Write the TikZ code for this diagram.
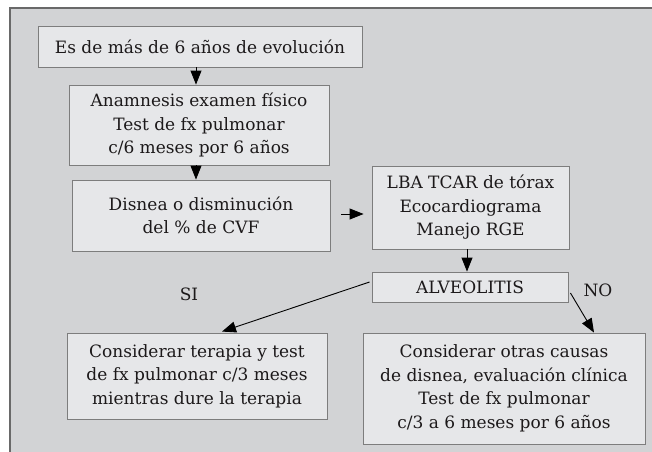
\documentclass[tikz,border=0pt]{standalone}
\usepackage{fontspec}
\setmainfont{DejaVu Serif}
\usetikzlibrary{arrows.meta}
\definecolor{bggray}{RGB}{210,211,213}
\definecolor{boxfill}{RGB}{230,231,233}
\definecolor{boxline}{RGB}{125,125,125}
\definecolor{frameline}{RGB}{105,105,105}
\definecolor{ink}{RGB}{28,25,26}
\begin{document}
\begin{tikzpicture}[x=1pt,y=-1pt,
  box/.style={draw=boxline,fill=boxfill,line width=0.9pt,text=ink,align=center,inner sep=0pt,font=\fontsize{17}{23.5}\selectfont},
  arr/.style={draw=black,line width=0.9pt,-{Triangle[length=14pt,width=11pt]}},
  lbl/.style={text=ink,inner sep=0pt,font=\fontsize{17}{23.5}\selectfont}]
\useasboundingbox (0,0) rectangle (652,451);
\fill[bggray] (10,8) rectangle (665,465);
\draw[frameline,line width=1.5pt] (10,470) -- (10,8) -- (665,8);

\node[box,minimum width=324pt,minimum height=41pt] (b1) at (200,46.5) {Es de más de 6 años de evolución};
\node[box,minimum width=260pt,minimum height=80pt] (b2) at (199,125) {Anamnesis examen físico\\Test de fx pulmonar\\c/6 meses por 6 años};
\node[box,minimum width=258pt,minimum height=71pt] (b3) at (201,215.5) {Disnea o disminución\\del \% de CVF};
\node[box,minimum width=197pt,minimum height=83pt] (b4) at (470.5,207.5) {LBA TCAR de tórax\\Ecocardiograma\\Manejo RGE};
\node[box,minimum width=196pt,minimum height=30pt] (b5) at (470,287) {ALVEOLITIS};
\node[box,minimum width=260pt,minimum height=86pt] (b6) at (197,376) {Considerar terapia y test\\de fx pulmonar c/3 meses\\mientras dure la terapia};
\node[box,minimum width=282pt,minimum height=111pt] (b7) at (504,388.5) {Considerar otras causas\\de disnea, evaluación clínica\\Test de fx pulmonar\\c/3 a 6 meses por 6 años};

\node[lbl] (si) at (189,294) {SI};
\node[lbl] (no) at (598,290) {NO};

\draw[arr] ([xshift=-4pt]b1.south) -- ([xshift=-4pt]b1.south |- b2.north);
\draw[arr] ([xshift=-3pt]b2.south) -- ([xshift=-3pt]b2.south |- b3.north);
\draw[arr] ([shift={(11pt,1.5pt)}]b3.east) -- ([shift={(-8pt,-6.5pt)}]b4.west);
\draw[arr] ([xshift=-3.5pt]b4.south) -- ([xshift=-3.5pt]b4.south |- b5.north);
\draw[arr] ([shift={(-2pt,5pt)}]b5.west) -- ([shift={(25pt,1pt)}]b6.north);
\draw[arr] ([shift={(2pt,-6pt)}]b5.east) -- ([xshift=90pt]b7.north);
\end{tikzpicture}
\end{document}
